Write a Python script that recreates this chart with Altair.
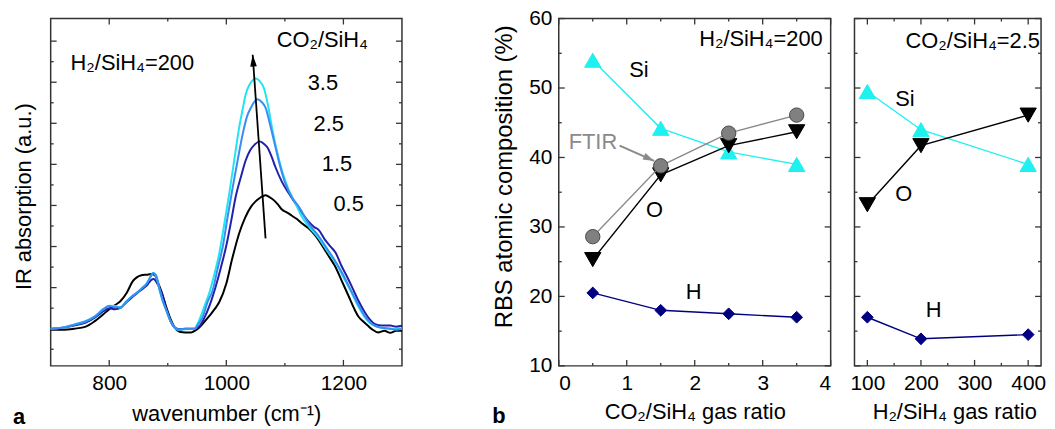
import altair as alt
import pandas as pd

FONT = "Liberation Sans"
FRAME = "#333333"
ANN_FS = 22

# ---------------- panel a : IR spectra (H2/SiH4 = 200) ----------------
wn_05 = [700, 720, 740, 760, 776, 790, 800, 810, 819, 830, 840, 847, 855, 864, 872, 878, 884, 890, 898, 905,
         912, 920, 930, 940, 949, 960, 971, 980, 988, 1000, 1010, 1022, 1032, 1042, 1050, 1056, 1062, 1067, 1073, 1081,
         1088, 1095, 1104, 1112, 1120, 1129, 1140, 1150, 1158, 1168, 1178, 1186, 1196, 1209, 1218, 1225, 1234, 1242, 1250, 1259,
         1270, 1280, 1290, 1300]
ab_05 = [-0.05, -0.05, 0.0, 0.1, 0.38, 0.7, 0.95, 1.15, 1.34, 1.75, 2.3, 2.5, 2.6, 2.63, 2.66, 2.6, 2.2, 1.75, 1.0, 0.45,
         0.05, -0.15, -0.18, -0.18, -0.05, 0.25, 0.62, 0.95, 1.3, 2.2, 3.4, 4.65, 5.4, 5.93, 6.2, 6.34, 6.45, 6.5, 6.42, 6.26,
         6.05, 5.8, 5.65, 5.5, 5.35, 5.13, 4.9, 4.6, 4.3, 3.85, 3.4, 3.03, 2.4, 1.58, 1.0, 0.62, 0.35, 0.14, -0.05, -0.18,
         -0.1, -0.2, -0.1, -0.1]

wn_15 = [700, 720, 740, 760, 776, 790, 800, 810, 819, 830, 840, 847, 855, 864, 872, 876, 882, 890, 898, 905,
         912, 920, 930, 946, 955, 962, 971, 982, 990, 1000, 1008, 1016, 1025, 1033, 1041, 1048, 1057, 1064, 1070, 1077,
         1084, 1095, 1107, 1118, 1130, 1141, 1150, 1158, 1168, 1178, 1187, 1196, 1205, 1214, 1225, 1237, 1245, 1254, 1265, 1280,
         1290, 1300]
ab_15 = [0.0, 0.05, 0.15, 0.3, 0.55, 0.85, 1.0, 0.95, 1.0, 1.3, 1.55, 1.72, 1.9, 2.1, 2.38, 2.42, 2.2, 1.7, 0.9, 0.35,
         0.05, -0.03, 0.0, 0.0, 0.15, 0.5, 1.1, 2.07, 2.9, 4.05, 5.2, 6.42, 7.4, 8.19, 8.7, 8.95, 9.12, 9.0, 8.83, 8.4,
         7.86, 7.15, 6.58, 6.1, 5.61, 5.2, 4.95, 4.8, 4.35, 4.0, 3.68, 3.1, 2.6, 2.07, 1.4, 0.78, 0.45, 0.22, 0.15, 0.15,
         0.1, 0.14]

wn_25 = [700, 720, 740, 760, 776, 790, 800, 810, 819, 830, 840, 847, 855, 864, 870, 875, 880, 886, 892, 898,
         905, 912, 920, 930, 946, 953, 960, 968, 977, 985, 994, 1002, 1011, 1020, 1028, 1035, 1042, 1048, 1053, 1060,
         1067, 1075, 1084, 1092, 1101, 1112, 1124, 1141, 1158, 1172, 1187, 1200, 1214, 1225, 1237, 1246, 1254, 1265, 1280, 1290,
         1300]
ab_25 = [0.0, 0.05, 0.2, 0.35, 0.6, 0.95, 1.1, 1.05, 1.05, 1.35, 1.6, 1.75, 1.95, 2.2, 2.5, 2.71, 2.6, 1.9, 1.3, 0.86,
         0.35, 0.05, -0.05, 0.0, 0.0, 0.25, 0.6, 1.3, 1.9, 2.9, 4.0, 5.4, 6.9, 8.3, 9.48, 10.3, 10.76, 11.05, 11.17, 11.05,
         10.76, 9.9, 8.83, 7.9, 7.06, 6.4, 5.93, 5.1, 4.5, 3.9, 3.25, 2.6, 1.8, 1.2, 0.6, 0.3, 0.14, 0.05, 0.0, -0.05,
         0.0]

wn_35 = [700, 720, 740, 760, 776, 790, 800, 810, 819, 830, 840, 847, 855, 864, 870, 875, 880, 886, 892, 898,
         905, 912, 920, 930, 946, 949, 955, 962, 971, 980, 988, 996, 1005, 1014, 1022, 1028, 1033, 1040, 1046, 1050,
         1057, 1064, 1071, 1078, 1086, 1095, 1106, 1118, 1129, 1141, 1158, 1172, 1187, 1200, 1214, 1225, 1237, 1246, 1254, 1265,
         1280, 1290, 1300]
ab_35 = [0.0, 0.05, 0.2, 0.38, 0.62, 0.95, 1.12, 1.1, 1.02, 1.34, 1.6, 1.75, 1.95, 2.2, 2.5, 2.71, 2.55, 1.9, 1.3, 0.86,
         0.35, 0.05, -0.06, -0.03, 0.0, 0.14, 0.5, 1.05, 1.75, 2.7, 3.68, 5.0, 6.58, 8.3, 9.8, 10.7, 11.4, 11.9, 12.12, 12.18,
         12.05, 11.73, 10.9, 9.8, 8.7, 7.7, 6.8, 6.1, 5.45, 4.97, 4.4, 3.8, 3.2, 2.5, 1.75, 1.1, 0.54, 0.25, 0.14, 0.05,
         0.0, 0.0, 0.0]

ratios = ["0.5", "1.5", "2.5", "3.5"]
curve_colors = {"0.5": "#000000", "1.5": "#2020a8", "2.5": "#3a8cf2", "3.5": "#22e4f0"}
draw_order = ["0.5", "1.5", "3.5", "2.5"]

ann_a_text = ["H₂/SiH₄=200", "CO₂/SiH₄", "3.5", "2.5", "1.5", "0.5"]
ann_a_x = [734, 1086, 1139, 1149, 1163, 1183]
ann_a_y = [12.92, 14.03, 11.96, 9.98, 8.04, 6.06]

arrow_a_x = [1067, 1045]
arrow_a_y = [4.4, 13.34]

# ---------------- panel b : RBS vs CO2/SiH4 ----------------
co2 = [0.5, 1.5, 2.5, 3.5]
si_b = [54.0, 44.2, 40.8, 39.0]
o_b = [25.3, 37.5, 41.7, 43.7]
ftir_b = [28.6, 38.8, 43.5, 46.1]
h_b = [20.5, 18.0, 17.5, 17.0]

ann_b_text = ["Si", "FTIR", "O", "H"]
ann_b_x = [1.036, 0.146, 1.285, 1.869]
ann_b_y = [52.57, 42.29, 32.43, 20.67]
ann_b_color = ["#000000", "#8a8a8a", "#000000", "#000000"]
arrow_b_x = [0.895, 1.404]
arrow_b_y = [41.71, 39.5]

# ---------------- panel c : RBS vs H2/SiH4 ----------------
h2 = [100, 200, 400]
si_c = [49.5, 44.0, 39.0]
o_c = [33.2, 41.7, 46.1]
h_c = [17.0, 13.9, 14.5]

ann_c_text = ["Si", "O", "H"]
ann_c_x = [152, 152, 209]
ann_c_y = [48.47, 34.67, 18.0]

# ---------------- sizes ----------------
H = 350
W_A, W_B, W_C = 354, 274, 188


def tick_layers(xs, ys, ax_x, ax_y, W, xmaj, xmin, ymaj, ymin):
    layers = []
    for vals, L in [(ymaj, 6), (ymin, 3)]:
        base = alt.Chart(pd.DataFrame({"v": vals})).mark_rule(color=FRAME, strokeWidth=1.3)
        yenc = alt.Y("v:Q", scale=ys, axis=ax_y)
        layers.append(base.encode(y=yenc, x=alt.value(0), x2=alt.value(L)))
        layers.append(base.encode(y=yenc, x=alt.value(W), x2=alt.value(W - L)))
    for vals, L in [(xmaj, 6), (xmin, 3)]:
        base = alt.Chart(pd.DataFrame({"v": vals})).mark_rule(color=FRAME, strokeWidth=1.3)
        xenc = alt.X("v:Q", scale=xs, axis=ax_x)
        layers.append(base.encode(x=xenc, y=alt.value(H), y2=alt.value(H - L)))
        layers.append(base.encode(x=xenc, y=alt.value(0), y2=alt.value(L)))
    return layers


# ---------- panel a ----------
xs_a = alt.Scale(domain=[700, 1300], nice=False, zero=False)
ys_a = alt.Scale(domain=[-1.81, 15.1], nice=False, zero=False)
ax_a_x = alt.Axis(values=[800, 1000, 1200], format="d", title="wavenumber (cm⁻¹)",
                  labelPadding=7, titleY=48, titleBaseline="middle")
ax_a_y = alt.Axis(labels=False, title="IR absorption (a.u.)", titleX=-27, titleY=179,
                  titleAngle=270, titleBaseline="middle", titleAlign="center")

spec_rows = []
for r, wns, abs_ in zip(ratios, [wn_05, wn_15, wn_25, wn_35], [ab_05, ab_15, ab_25, ab_35]):
    for w, a in zip(wns, abs_):
        spec_rows.append({"wn": w, "ab": a, "ratio": r})
spec = pd.DataFrame(spec_rows)

a_layers = tick_layers(xs_a, ys_a, ax_a_x, ax_a_y, W_A, [800, 1000, 1200], [900, 1100],
                       [0, 2, 4, 6, 8, 10, 12, 14], [-1, 1, 3, 5, 7, 9, 11, 13])
for r in draw_order:
    a_layers.append(
        alt.Chart(spec).transform_filter(alt.datum.ratio == r)
        .mark_line(color=curve_colors[r], strokeWidth=2, interpolate="monotone")
        .encode(x=alt.X("wn:Q", scale=xs_a, axis=ax_a_x), y=alt.Y("ab:Q", scale=ys_a, axis=ax_a_y))
    )
arr_a = pd.DataFrame({"x": [arrow_a_x[0]], "y": [arrow_a_y[0]], "x2": [arrow_a_x[1]], "y2": [arrow_a_y[1]]})
a_layers.append(
    alt.Chart(arr_a).mark_rule(color="black", strokeWidth=1.8).encode(
        x=alt.X("x:Q", scale=xs_a, axis=ax_a_x), y=alt.Y("y:Q", scale=ys_a, axis=ax_a_y),
        x2="x2:Q", y2="y2:Q")
)
a_layers.append(
    alt.Chart(arr_a).mark_point(shape="M0,0L-0.45,1.6L0.45,1.6Z", filled=True, color="black",
                                opacity=1, size=220, angle=355.7).encode(
        x=alt.X("x2:Q", scale=xs_a, axis=ax_a_x), y=alt.Y("y2:Q", scale=ys_a, axis=ax_a_y))
)
ann_a = pd.DataFrame({"t": ann_a_text, "x": ann_a_x, "y": ann_a_y})
a_layers.append(
    alt.Chart(ann_a).mark_text(align="left", baseline="middle", fontSize=ANN_FS, color="black").encode(
        x=alt.X("x:Q", scale=xs_a, axis=ax_a_x), y=alt.Y("y:Q", scale=ys_a, axis=ax_a_y), text="t:N")
)
a_layers.append(
    alt.Chart(pd.DataFrame({"t": ["a"]})).mark_text(align="left", baseline="middle", fontSize=22,
                                                    fontWeight="bold", color="black")
    .encode(x=alt.value(-38), y=alt.value(402), text="t:N")
)
panel_a = alt.layer(*a_layers).properties(width=W_A, height=H)

# ---------- panel b ----------
xs_b = alt.Scale(domain=[0, 4], nice=False, zero=False)
ys_b = alt.Scale(domain=[10, 60], nice=False, zero=False)
ax_b_x = alt.Axis(values=[0, 1, 2, 3, 4], format="d", title="CO₂/SiH₄ gas ratio",
                  labelPadding=7, titleY=46, titleBaseline="middle")
ax_b_y = alt.Axis(values=[10, 20, 30, 40, 50, 60], format="d", title="RBS atomic composition (%)",
                  labelPadding=7, titleX=-55, titleY=159, titleAngle=270, titleFontSize=24,
                  titleBaseline="middle", titleAlign="center")

df_b = pd.DataFrame({"x": co2, "si": si_b, "o": o_b, "ftir": ftir_b, "h": h_b})

SERIES = [
    ("si", "#1ff0f0", "#1ff0f0", "#1ff0f0", "triangle-up", 270),
    ("o", "#000000", "#000000", "#000000", "triangle-down", 270),
    ("ftir", "#8a8a8a", "#808080", "#4a4a4a", "circle", 210),
    ("h", "#000080", "#000080", "#000080", "diamond", 140),
]


def series_layers(df, fields, xs, ys, ax_x, ax_y):
    out = []
    for f, lc, fc, sc, shp, sz in SERIES:
        if f not in fields:
            continue
        enc = dict(x=alt.X("x:Q", scale=xs, axis=ax_x), y=alt.Y(f + ":Q", scale=ys, axis=ax_y))
        out.append(alt.Chart(df).mark_line(color=lc, strokeWidth=1.4).encode(**enc))
        out.append(alt.Chart(df).mark_point(shape=shp, filled=True, fill=fc, stroke=sc, strokeWidth=1,
                                            opacity=1, size=sz).encode(**enc))
    return out


b_layers = tick_layers(xs_b, ys_b, ax_b_x, ax_b_y, W_B, [0, 1, 2, 3, 4], [0.5, 1.5, 2.5, 3.5],
                       [10, 20, 30, 40, 50, 60], [15, 25, 35, 45, 55])
b_layers += series_layers(df_b, ["si", "o", "ftir", "h"], xs_b, ys_b, ax_b_x, ax_b_y)
arr_b = pd.DataFrame({"x": [arrow_b_x[0]], "y": [arrow_b_y[0]], "x2": [arrow_b_x[1]], "y2": [arrow_b_y[1]]})
b_layers.append(
    alt.Chart(arr_b).mark_rule(color="#8a8a8a", strokeWidth=2).encode(
        x=alt.X("x:Q", scale=xs_b, axis=ax_b_x), y=alt.Y("y:Q", scale=ys_b, axis=ax_b_y),
        x2="x2:Q", y2="y2:Q")
)
b_layers.append(
    alt.Chart(arr_b).mark_point(shape="M0,0L-0.5,1.6L0.5,1.6Z", filled=True, color="#8a8a8a",
                                opacity=1, size=200, angle=114.8).encode(
        x=alt.X("x2:Q", scale=xs_b, axis=ax_b_x), y=alt.Y("y2:Q", scale=ys_b, axis=ax_b_y))
)
ann_b = pd.DataFrame({"t": ann_b_text, "x": ann_b_x, "y": ann_b_y, "c": ann_b_color})
b_layers.append(
    alt.Chart(ann_b).mark_text(align="left", baseline="middle", fontSize=ANN_FS).encode(
        x=alt.X("x:Q", scale=xs_b, axis=ax_b_x), y=alt.Y("y:Q", scale=ys_b, axis=ax_b_y),
        text="t:N", color=alt.Color("c:N", scale=None))
)
b_layers.append(
    alt.Chart(pd.DataFrame({"t": ["H₂/SiH₄=200"], "x": [3.883], "y": [57.1]}))
    .mark_text(align="right", baseline="middle", fontSize=ANN_FS, color="black").encode(
        x=alt.X("x:Q", scale=xs_b, axis=ax_b_x), y=alt.Y("y:Q", scale=ys_b, axis=ax_b_y), text="t:N")
)
b_layers.append(
    alt.Chart(pd.DataFrame({"t": ["b"]})).mark_text(align="left", baseline="middle", fontSize=22,
                                                    fontWeight="bold", color="black")
    .encode(x=alt.value(-67), y=alt.value(401), text="t:N")
)
panel_b = alt.layer(*b_layers).properties(width=W_B, height=H)

# ---------- panel c ----------
xs_c = alt.Scale(domain=[76, 424], nice=False, zero=False)
ys_c = alt.Scale(domain=[10, 60], nice=False, zero=False)
ax_c_x = alt.Axis(values=[100, 200, 300, 400], format="d", title="H₂/SiH₄ gas ratio",
                  labelPadding=7, titleX=100.5, titleY=46, titleBaseline="middle")
ax_c_y = None

df_c = pd.DataFrame({"x": h2, "si": si_c, "o": o_c, "h": h_c})
c_layers = tick_layers(xs_c, ys_c, ax_c_x, ax_c_y, W_C, [100, 200, 300, 400], [150, 250, 350],
                       [10, 20, 30, 40, 50, 60], [15, 25, 35, 45, 55])
c_layers += series_layers(df_c, ["si", "o", "h"], xs_c, ys_c, ax_c_x, ax_c_y)
ann_c = pd.DataFrame({"t": ann_c_text, "x": ann_c_x, "y": ann_c_y})
c_layers.append(
    alt.Chart(ann_c).mark_text(align="left", baseline="middle", fontSize=ANN_FS, color="black").encode(
        x=alt.X("x:Q", scale=xs_c, axis=ax_c_x), y=alt.Y("y:Q", scale=ys_c, axis=ax_c_y), text="t:N")
)
c_layers.append(
    alt.Chart(pd.DataFrame({"t": ["CO₂/SiH₄=2.5"], "x": [422], "y": [56.8]}))
    .mark_text(align="right", baseline="middle", fontSize=ANN_FS, color="black").encode(
        x=alt.X("x:Q", scale=xs_c, axis=ax_c_x), y=alt.Y("y:Q", scale=ys_c, axis=ax_c_y), text="t:N")
)
panel_c = alt.layer(*c_layers).properties(width=W_C, height=H)

right = alt.hconcat(panel_b, panel_c, spacing=24, bounds="flush")
chart = (
    alt.hconcat(panel_a, right, spacing=158, bounds="flush")
    .properties(padding={"left": 4, "top": -3, "right": 0, "bottom": 0})
    .configure_view(stroke=FRAME, strokeWidth=1.5)
    .configure_axis(domain=False, ticks=False, grid=False, labelFont=FONT, titleFont=FONT,
                    labelFontSize=21, titleFontSize=22, labelColor="black", titleColor="black",
                    titleFontWeight="normal")
    .configure_text(font=FONT)
)

chart.save("out.html", embed_options={"renderer": "svg", "actions": False})
